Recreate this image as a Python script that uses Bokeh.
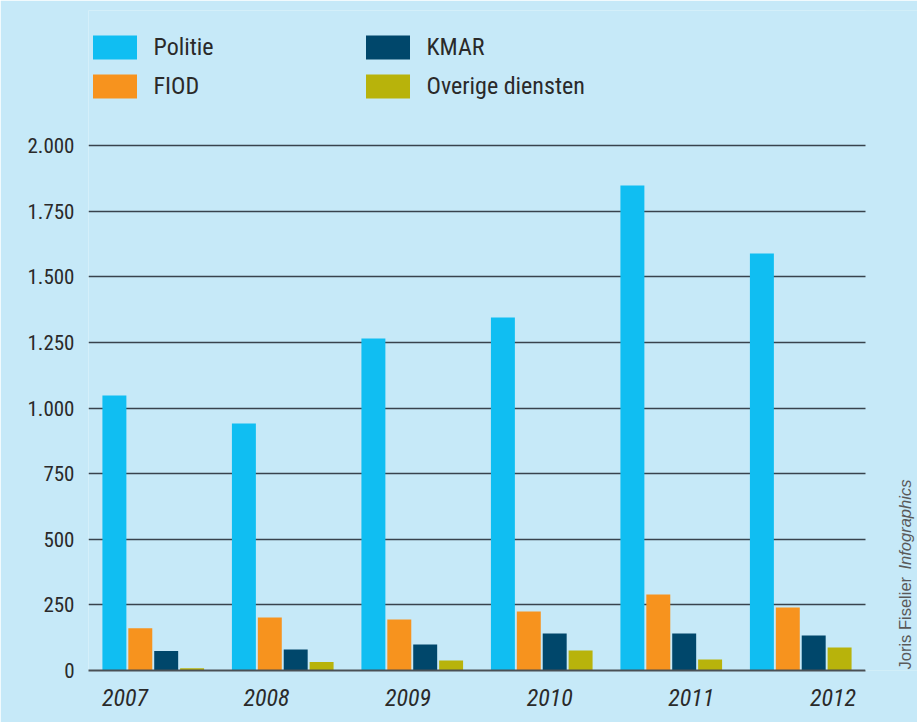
from bokeh.plotting import figure
from bokeh.models import (ColumnDataSource, Range1d, LinearAxis, FixedTicker,
                          Legend, LegendItem, Label, BoxAnnotation)
from bokeh.transform import dodge
from bokeh.embed import file_html
from bokeh.resources import INLINE
from math import pi

# ---- data ----
years = ["2007", "2008", "2009", "2010", "2011", "2012"]
politie = [1048, 941, 1265, 1345, 1848, 1589]
fiod = [161, 202, 194, 225, 290, 240]
kmar = [74, 80, 99, 141, 141, 133]
overige = [9, 32, 38, 76, 42, 88]
series_names = ["Politie", "FIOD", "KMAR", "Overige diensten"]
y_ticks = [0, 250, 500, 750, 1000, 1250, 1500, 1750, 2000]
y_tick_labels = ["0", "250", "500", "750", "1.000", "1.250", "1.500", "1.750", "2.000"]
credit_name = "Joris Fiselier"
credit_firm = "Infographics"

colors = ["#10BEF2", "#F7931E", "#00476B", "#B8B30B"]
BG = "#C6E9F8"
INK = "#2a2a2a"
FONT = "'Liberation Sans Narrow', 'Roboto Condensed', 'Liberation Sans', sans-serif"

# ---- layout geometry (pixels) ----
W, H = 917, 722
LEFT, TOP, BOTTOM = 88, 10, 52          # frame borders
chart_h = 525                            # pixels between 0 and 2000
chart_w = 777                            # pixels spanned by the six groups
frame_w = W - LEFT
frame_h = H - TOP - BOTTOM
y_max_tick = y_ticks[-1]
n = len(years)
x_end = -0.5 + n * frame_w / chart_w
y_end = y_max_tick * frame_h / chart_h

src = ColumnDataSource(dict(x=list(range(n)), politie=politie, fiod=fiod,
                            kmar=kmar, overige=overige))

p = figure(width=W, height=H, output_backend="svg", toolbar_location=None,
           x_range=Range1d(-0.5, x_end), y_range=Range1d(0, y_end),
           x_axis_type=None, min_border_left=LEFT, min_border_right=0,
           min_border_top=TOP, min_border_bottom=BOTTOM,
           background_fill_color=BG, border_fill_color=BG, outline_line_color=None)

cols = ["politie", "fiod", "kmar", "overige"]
offsets = [-0.3, -0.1, 0.1, 0.3]
renderers = []
for c, off, col in zip(cols, offsets, colors):
    r = p.vbar(x=dodge("x", off, range=p.x_range), top=c, width=0.185, source=src,
               fill_color=col, line_color=None)
    renderers.append(r)

# y axis
p.yaxis.ticker = FixedTicker(ticks=y_ticks)
p.yaxis.major_label_overrides = {t: l for t, l in zip(y_ticks, y_tick_labels)}
p.yaxis.axis_line_color = None
p.yaxis.major_tick_line_color = None
p.yaxis.minor_tick_line_color = None
p.yaxis.major_tick_out = 0
p.yaxis.major_tick_in = 0
p.yaxis.major_label_standoff = 14
p.yaxis.major_label_text_font = FONT
p.yaxis.major_label_text_font_size = "21px"
p.yaxis.major_label_text_color = INK
p.ygrid.grid_line_color = "#38434D"
p.ygrid.grid_line_width = 1.6

# cover the grid lines to the right of the last group
p.add_layout(BoxAnnotation(left=n - 0.5, fill_color=BG, fill_alpha=1.0, line_color=None))

# year labels axis (own range so labels sit where the reference has them)
lab_step = 141.6
lab_first = 36.4  # px from frame left to first label centre
lab_start = -lab_first / lab_step
p.extra_x_ranges = {"labels": Range1d(lab_start, lab_start + frame_w / lab_step)}
xa = LinearAxis(x_range_name="labels", ticker=FixedTicker(ticks=list(range(n))),
                bounds=(lab_start, lab_start + chart_w / lab_step))
xa.major_label_overrides = {i: y for i, y in enumerate(years)}
xa.axis_line_color = "#4a5055"
xa.axis_line_width = 2
xa.major_tick_line_color = None
xa.minor_tick_line_color = None
xa.major_tick_out = 0
xa.major_tick_in = 0
xa.major_label_standoff = 18
xa.major_label_text_font = FONT
xa.major_label_text_font_size = "24px"
xa.major_label_text_font_style = "italic"
xa.major_label_text_color = INK
p.add_layout(xa, "below")

# legends (two columns)
def make_legend(items, loc):
    return Legend(items=items, location=loc, orientation="vertical",
                  glyph_width=55, glyph_height=30, label_height=30, spacing=9,
                  label_standoff=12, padding=0, margin=0,
                  background_fill_alpha=0, border_line_alpha=0,
                  label_text_font=FONT, label_text_font_size="24px",
                  label_text_color=INK)

leg_y = frame_h + TOP - 101
lg1 = make_legend([LegendItem(label=series_names[0], renderers=[renderers[0]]),
                   LegendItem(label=series_names[1], renderers=[renderers[1]])], (-1.5, leg_y))
lg2 = make_legend([LegendItem(label=series_names[2], renderers=[renderers[2]]),
                   LegendItem(label=series_names[3], renderers=[renderers[3]])], (271.5, leg_y))
p.add_layout(lg1, "center")
p.add_layout(lg2, "center")

# credit text, rotated on the right
cfont = "'Liberation Sans', Arial, sans-serif"
lab1 = Label(x=n - 0.5, y=0, x_offset=39, y_offset=1, text=credit_name, angle=pi / 2,
             text_align="left", text_baseline="middle", text_font=cfont,
             text_font_size="16.5px", text_color="#5a5a5a")
lab2 = Label(x=n - 0.5, y=0, x_offset=39, y_offset=101, text=credit_firm, angle=pi / 2,
             text_align="left", text_baseline="middle", text_font=cfont,
             text_font_size="16.5px", text_font_style="italic", text_color="#5a5a5a")
p.add_layout(lab1)
p.add_layout(lab2)

open("out.html", "w").write(file_html(p, INLINE))
